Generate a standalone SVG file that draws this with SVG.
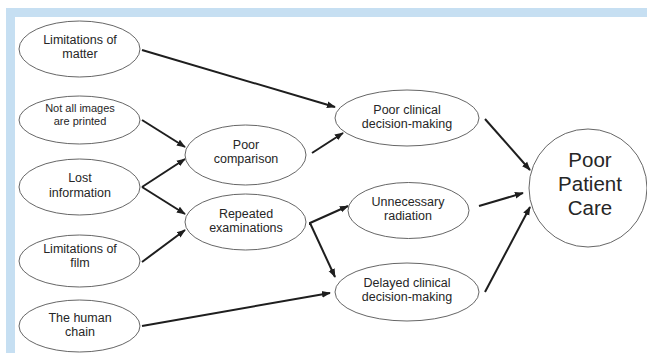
<svg xmlns="http://www.w3.org/2000/svg" width="647" height="353" viewBox="0 0 647 353">
<defs>
<style>
.n{fill:#fff;stroke:#555;stroke-width:0.9}
.t{font-family:"Liberation Sans",Arial,sans-serif;font-size:12.5px;fill:#262626;text-anchor:middle}
.s{font-size:11px}
.b{font-size:20.5px}
.c{stroke:#1e1e1e;stroke-width:2;fill:none}
</style>
<marker id="a" viewBox="0 0 10 10" refX="9" refY="5" markerWidth="4.5" markerHeight="4.5" orient="auto" markerUnits="strokeWidth">
<path d="M0,1.3 L10,5 L0,8.7 z" fill="#1e1e1e"/>
</marker>
</defs>
<rect x="0" y="0" width="647" height="353" fill="#fff"/>
<rect x="6" y="8" width="641" height="9" fill="#c6dff2"/>
<rect x="6" y="8" width="9" height="345" fill="#c6dff2"/>
<g id="connectors">
<line class="c" x1="142" y1="50" x2="335" y2="107" marker-end="url(#a)"/>
<line class="c" x1="142" y1="120" x2="185" y2="147" marker-end="url(#a)"/>
<line class="c" x1="142" y1="187" x2="185" y2="159" marker-end="url(#a)"/>
<line class="c" x1="142" y1="187" x2="185" y2="214" marker-end="url(#a)"/>
<line class="c" x1="142" y1="262" x2="185" y2="230" marker-end="url(#a)"/>
<line class="c" x1="142" y1="326" x2="330" y2="293" marker-end="url(#a)"/>
<line class="c" x1="312" y1="153" x2="343" y2="133" marker-end="url(#a)"/>
<polyline class="c" points="310,225 310,223 348,206" marker-end="url(#a)"/>
<line class="c" x1="310" y1="223" x2="335" y2="277" marker-end="url(#a)"/>
<line class="c" x1="485" y1="119" x2="530" y2="170" marker-end="url(#a)"/>
<line class="c" x1="479" y1="206" x2="523" y2="193" marker-end="url(#a)"/>
<line class="c" x1="485" y1="292" x2="530" y2="207" marker-end="url(#a)"/>
</g>
<g id="n1"><ellipse class="n" cx="79.5" cy="49" rx="60.5" ry="28"/><text class="t" x="80" y="43.5">Limitations of</text><text class="t" x="80" y="58">matter</text></g>
<g id="n2"><ellipse class="n" cx="79.5" cy="120" rx="60.5" ry="24"/><text class="t s" x="80" y="112">Not all images</text><text class="t s" x="80" y="124.5">are printed</text></g>
<g id="n3"><ellipse class="n" cx="79.5" cy="187" rx="60.5" ry="28"/><text class="t" x="80" y="181.5">Lost</text><text class="t" x="80" y="197">information</text></g>
<g id="n4"><ellipse class="n" cx="79.5" cy="261" rx="60.5" ry="26"/><text class="t" x="80" y="252.5">Limitations of</text><text class="t" x="80" y="267">film</text></g>
<g id="n5"><ellipse class="n" cx="79.5" cy="326" rx="60.5" ry="26"/><text class="t" x="80" y="321.5">The human</text><text class="t" x="80" y="336">chain</text></g>
<g id="n6"><ellipse class="n" cx="245.5" cy="155" rx="60.5" ry="30"/><text class="t" x="246" y="148.5">Poor</text><text class="t" x="246" y="163">comparison</text></g>
<g id="n7"><ellipse class="n" cx="245.5" cy="222" rx="60.5" ry="28"/><text class="t" x="246" y="217.5">Repeated</text><text class="t" x="246" y="232">examinations</text></g>
<g id="n8"><ellipse class="n" cx="407" cy="118" rx="72" ry="28"/><text class="t" x="407" y="113.5">Poor clinical</text><text class="t" x="407" y="128">decision-making</text></g>
<g id="n9"><ellipse class="n" cx="408.5" cy="210.5" rx="60.5" ry="28"/><text class="t" x="408" y="205.5">Unnecessary</text><text class="t" x="408" y="219.5">radiation</text></g>
<g id="n10"><ellipse class="n" cx="407" cy="292" rx="72" ry="29"/><text class="t" x="407" y="286.5">Delayed clinical</text><text class="t" x="407" y="301">decision-making</text></g>
<g id="n11"><circle class="n" cx="588" cy="188" r="59"/><text class="t b" x="590" y="167">Poor</text><text class="t b" x="590" y="191">Patient</text><text class="t b" x="590" y="215">Care</text></g>
</svg>
